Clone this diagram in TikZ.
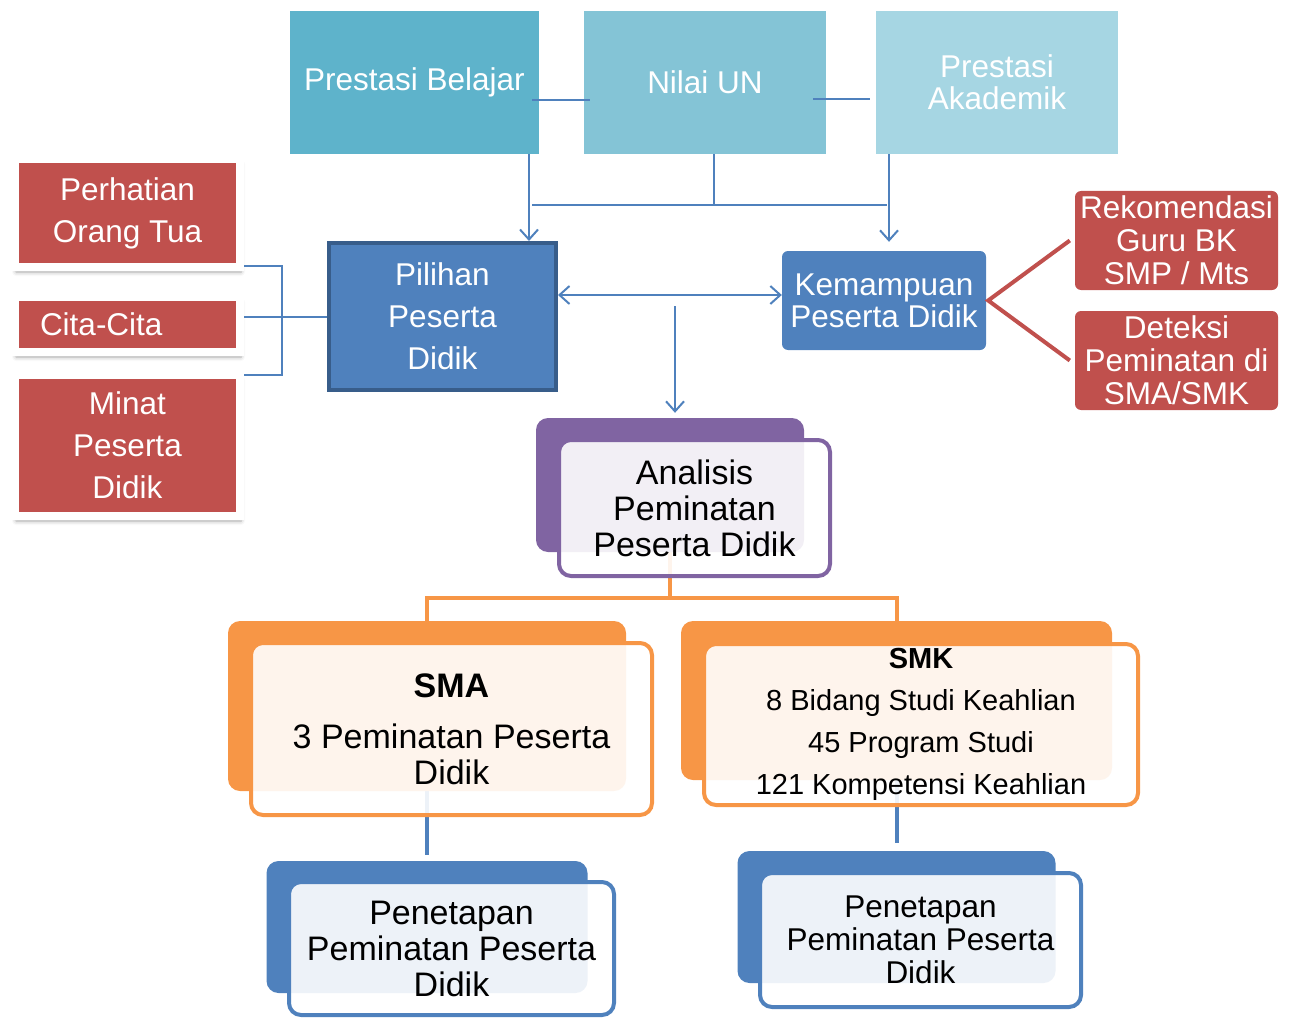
\documentclass[tikz,border=0pt]{standalone}
\usepackage{fontspec}
\setmainfont{Liberation Sans}
\usetikzlibrary{arrows.meta, positioning, calc, shadows.blur, backgrounds}
\definecolor{AquaDark}{HTML}{5EB3CB}
\definecolor{AquaMid}{HTML}{84C4D6}
\definecolor{AquaLight}{HTML}{A6D6E3}
\definecolor{BrickRed}{HTML}{C0504D}
\definecolor{SteelBlue}{HTML}{4F81BD}
\definecolor{NavyEdge}{HTML}{385D8A}
\definecolor{Lavender}{HTML}{8064A2}
\definecolor{Tangerine}{HTML}{F79646}
\newcommand{\setsz}[2]{\fontsize{#1}{#2}\selectfont}

\begin{document}
\begin{tikzpicture}[x=1pt, y=-1pt,
    box/.style={inner sep=0pt, align=center, text=white},
    aqua/.style={box, minimum width=242pt, minimum height=143pt, font=\setsz{31.5}{32}},
    redbox/.style={box, fill=BrickRed, draw=white, line width=8pt, minimum width=225pt,
        blur shadow={shadow xshift=1pt, shadow yshift=-5pt, shadow blur radius=4pt, shadow opacity=35},
        font=\setsz{31.5}{42}},
    tag/.style={box, fill=BrickRed, rounded corners=6pt, minimum width=203pt, minimum height=99pt, font=\setsz{31.5}{33}},
    backbox/.style={inner sep=0pt, rounded corners=12pt},
    frontbox/.style={inner sep=0pt, rounded corners=12pt, fill=white, fill opacity=0.9, text opacity=1,
        line width=4pt, align=center},
    link/.style={SteelBlue, line width=2pt},
    arr/.style={-{Straight Barb[length=10pt,width=18pt]}}]
    \useasboundingbox (0,0) rectangle (1290,1019);
    % Top row
    \node[aqua, fill=AquaDark, minimum width=249pt] (prestasi) at (414.5,82.5) {Prestasi Belajar};
    \node[aqua, fill=AquaMid] (nilai) at (705,82.5) {Nilai UN};
    \node[aqua, fill=AquaLight] (akademik) at (997,82.5) {Prestasi\\Akademik};
    % Left column
    \node[redbox, minimum height=108pt] (perhatian) at (127.5,213) {Perhatian\\Orang Tua};
    \node[redbox, minimum height=55pt, text width=175pt, align=left] (cita) at (127.5,324.5) {\raisebox{-4pt}{Cita-Cita}};
    \node[redbox, minimum height=141pt] (minat) at (127.5,445.5) {Minat\\Peserta\\Didik};
    % Middle row
    \node[box, fill=SteelBlue, draw=NavyEdge, line width=4pt, minimum width=227pt, minimum height=147pt,
        font=\setsz{31.5}{42}] (pilihan) at (442.5,316.5) {Pilihan\\Peserta\\Didik};
    \node[box, fill=SteelBlue, rounded corners=6pt, minimum width=204pt, minimum height=99pt,
        font=\setsz{31.5}{32}] (kemampuan) at (884,300.5) {Kemampuan\\Peserta Didik};
    \node[tag] (rekomendasi) at (1176.5,240.5) {Rekomendasi\\Guru BK\\SMP / Mts};
    \node[tag] (deteksi) at (1176.5,360.5) {Deteksi\\Peminatan di\\SMA/SMK};
    % Analisis
    \node[backbox, fill=Lavender, minimum width=268pt, minimum height=134pt] (analisisBack) at (670,485) {};
    \node[frontbox, draw=Lavender, minimum width=271pt, minimum height=136pt, font=\setsz{34}{36}]
        (analisis) at (694.5,508) {Analisis\\Peminatan\\Peserta Didik};
    % SMA and SMK
    \node[backbox, fill=Tangerine, minimum width=398pt, minimum height=170pt] (smaBack) at (427,706) {};
    \node[frontbox, draw=Tangerine, minimum width=401pt, minimum height=172pt, font=\setsz{34}{36}]
        (sma) at (451.5,729) {\textbf{SMA}\\[15pt]3 Peminatan Peserta\\Didik};
    \node[backbox, fill=Tangerine, minimum width=431pt, minimum height=159pt] (smkBack) at (896.5,700.5) {};
    \node[frontbox, draw=Tangerine, minimum width=434pt, minimum height=161pt, font=\setsz{29}{42}]
        (smk) at (921,724.5) {\textbf{SMK}\\8 Bidang Studi Keahlian\\45 Program Studi\\121 Kompetensi Keahlian};
    % Penetapan
    \node[backbox, fill=SteelBlue, minimum width=321pt, minimum height=132pt] (penKiriBack) at (427,927) {};
    \node[frontbox, draw=SteelBlue, minimum width=325pt, minimum height=133pt, font=\setsz{34}{36}]
        (penKiri) at (451.5,948.5) {Penetapan\\Peminatan Peserta\\Didik};
    \node[backbox, fill=SteelBlue, minimum width=318pt, minimum height=132pt] (penKananBack) at (896.5,917) {};
    \node[frontbox, draw=SteelBlue, minimum width=321pt, minimum height=134pt, font=\setsz{31.5}{33}]
        (penKanan) at (920.5,940) {Penetapan\\Peminatan Peserta\\Didik};
    % Top connectors
    \draw[link] ([shift={(-7,17.5)}]prestasi.east) -- ([shift={(6,17.5)}]nilai.west);
    \draw[link] ([shift={(-13,16.5)}]nilai.east) -- ([shift={(-6,16.5)}]akademik.west);
    \coordinate (barL) at (532,205);
    \coordinate (barR) at (887,205);
    \draw[link] (barL) -- (barR);
    \draw[link] ([xshift=9pt]nilai.south) -- ([xshift=9pt]nilai.south |- barL);
    \draw[link, arr] ([xshift=114.5pt]prestasi.south) -- ([xshift=114.5pt]prestasi.south |- pilihan.north);
    \draw[link, arr, shorten >=9pt] ([xshift=-108pt]akademik.south) -- ([xshift=-108pt]akademik.south |- kemampuan.north);
    % Left bracket
    \draw[link] ([yshift=5pt]perhatian.south east) -- ++(38,0) |- ([yshift=-4pt]minat.north east);
    \draw[link] (cita.east |- pilihan.west) -- (pilihan.west);
    % Middle connectors
    \draw[link, {Straight Barb[length=10pt,width=18pt]}-{Straight Barb[length=10pt,width=18pt]}]
        ([yshift=21.5pt]pilihan.east) -- ([yshift=21.5pt]pilihan.east -| kemampuan.west);
    \coordinate (drop) at (675,306);
    \draw[link, arr, shorten >=5pt] (drop) -- (drop |- analisisBack.north);
    \draw[BrickRed, line width=4pt] ([xshift=-5pt]rekomendasi.west) -- ([xshift=2pt]kemampuan.east) -- ([xshift=-5pt]deteksi.west);
    % Lower connectors
    \begin{scope}[on background layer]
        \coordinate (fork) at (670,598);
        \draw[Tangerine, line width=4pt] (analisisBack.south) -- (fork);
        \draw[Tangerine, line width=4pt] (smaBack.north) |- (fork) -| (smkBack.north);
        \draw[SteelBlue, line width=4pt, shorten >=6pt] (smaBack.south) -- (penKiriBack.north);
        \draw[SteelBlue, line width=4pt, shorten >=8pt] (smkBack.south) -- (penKananBack.north);
    \end{scope}
\end{tikzpicture}
\end{document}
